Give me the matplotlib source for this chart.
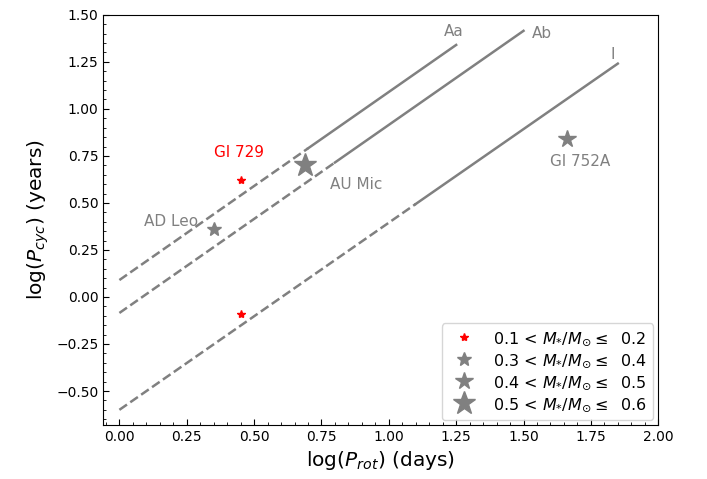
import matplotlib
matplotlib.use('Agg')
import matplotlib.pyplot as plt
from matplotlib.ticker import AutoMinorLocator
import numpy as np

# relations log(Pcyc) = slope*log(Prot) + offset
branch_names = ['Aa', 'Ab', 'I']
branch_offset = [0.09, -0.085, -0.60]
branch_slope = [1.0, 1.0, 0.995]
branch_xend = [1.25, 1.50, 1.85]
branch_xsolid = [0.70, 0.80, 1.10]
branch_label_xy = [(1.24, 1.41), (1.57, 1.40), (1.83, 1.29)]

# stars
star_names = ['Gl 729', 'Gl 729', 'AD Leo', 'AU Mic', 'Gl 752A']
star_x = [0.45, 0.45, 0.35, 0.69, 1.66]
star_y = [0.62, -0.09, 0.36, 0.70, 0.84]
star_cls = [0, 0, 1, 3, 2]

cls_labels = [r'0.1 < $M_{*}/M_{\odot}\leq$  0.2',
              r'0.3 < $M_{*}/M_{\odot}\leq$  0.4',
              r'0.4 < $M_{*}/M_{\odot}\leq$  0.5',
              r'0.5 < $M_{*}/M_{\odot}\leq$  0.6']
cls_color = ['red', 'grey', 'grey', 'grey']
cls_size = [6, 10, 13, 17]

fig = plt.figure(figsize=(7.07, 4.79), dpi=100)
ax = fig.add_axes([0.146, 0.113, 0.785, 0.856])

for off, sl, xe, xs in zip(branch_offset, branch_slope, branch_xend, branch_xsolid):
    xd = np.array([0.0, xs])
    ax.plot(xd, sl*xd + off, '--', color='grey', lw=1.8)
    xx = np.array([xs, xe])
    ax.plot(xx, sl*xx + off, '-', color='grey', lw=1.8)

for name, (tx, ty) in zip(branch_names, branch_label_xy):
    ax.text(tx, ty, name, color='grey', fontsize=11, ha='center', va='center')

for c in range(4):
    idx = [i for i, k in enumerate(star_cls) if k == c]
    ax.plot([star_x[i] for i in idx], [star_y[i] for i in idx], '*',
            color=cls_color[c], ms=cls_size[c], ls='none', label=cls_labels[c])

ax.text(0.445, 0.77, 'Gl 729', color='red', fontsize=11, ha='center', va='center')
ax.text(0.19, 0.40, 'AD Leo', color='grey', fontsize=11, ha='center', va='center')
ax.text(0.88, 0.60, 'AU Mic', color='grey', fontsize=11, ha='center', va='center')
ax.text(1.71, 0.72, 'Gl 752A', color='grey', fontsize=11, ha='center', va='center')

ax.set_xlim(-0.06, 2.0)
ax.set_ylim(-0.68, 1.50)
ax.set_xticks(np.arange(0, 2.01, 0.25))
ax.set_yticks(np.arange(-0.5, 1.51, 0.25))
ax.xaxis.set_minor_locator(AutoMinorLocator(5))
ax.yaxis.set_minor_locator(AutoMinorLocator(5))
ax.tick_params(which='both', direction='in', labelsize=10)
ax.tick_params(which='major', length=4)
ax.tick_params(which='minor', length=2)

ax.set_xlabel(r'log($P_{rot}$) (days)', fontsize=14.5)
ax.set_ylabel(r'log($P_{cyc}$) (years)', fontsize=14.5)

ax.legend(loc='lower right', fontsize=11.5, numpoints=1, labelspacing=0.25,
          borderaxespad=0.3)

fig.savefig('out.png', dpi=100)
